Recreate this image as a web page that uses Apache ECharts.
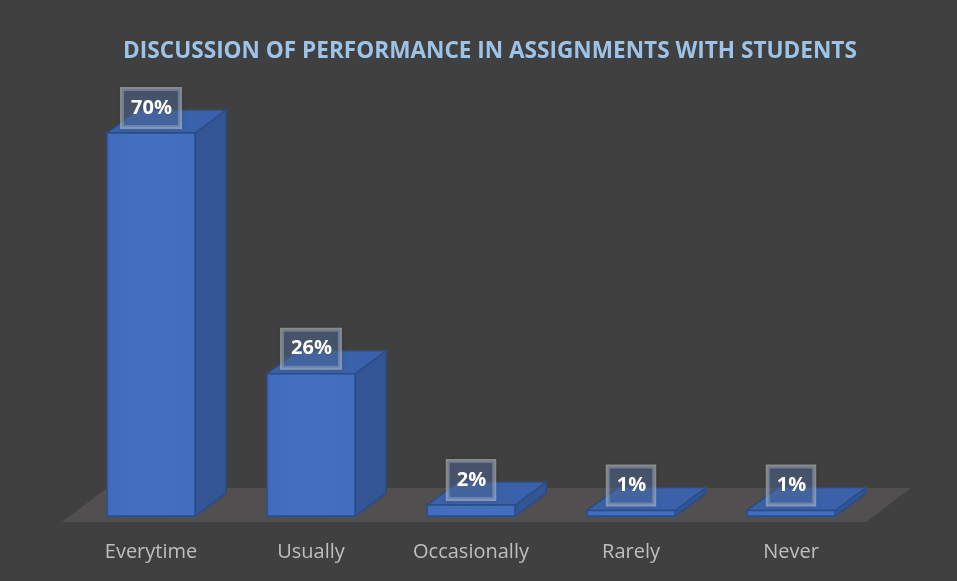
<!DOCTYPE html>
<html>
<head>
<meta charset="utf-8">
<script src="https://cdn.jsdelivr.net/npm/echarts@6/dist/echarts.min.js"></script>
<style>
    html, body { margin: 0; padding: 0; background: #404040; }
    #chart { width: 957px; height: 581px; }
</style>
</head>
<body>
<div id="chart"></div>
<script>
var categories = ["Everytime", "Usually", "Occasionally", "Rarely", "Never"];
var percents = [70, 26, 2, 1, 1];

(function() {
    let myChart = echarts.init(document.getElementById("chart"));

    // depth of the 3d look
    var dx = 31, dy = -23;

    function renderBar(params, api) {
        var base = api.coord([api.value(0), 0]);
        var top = api.coord([api.value(0), api.value(1)]);
        var w = api.size([1, 0])[0] * 0.55;
        var x0 = base[0] - w / 2, x1 = base[0] + w / 2;
        var yb = base[1], yt = top[1];
        var edge = { stroke: "#2b4c86", lineWidth: 1.5 };
        return {
            type: "group",
            children: [{
                type: "polygon",
                shape: { points: [[x1, yt], [x1 + dx, yt + dy], [x1 + dx, yb + dy], [x1, yb]] },
                style: Object.assign({ fill: "#335594" }, edge)
            }, {
                type: "polygon",
                shape: { points: [[x0, yt], [x1, yt], [x1 + dx, yt + dy], [x0 + dx, yt + dy]] },
                style: Object.assign({ fill: "#3a62aa" }, edge)
            }, {
                type: "rect",
                shape: { x: x0, y: yt, width: w, height: yb - yt },
                style: Object.assign({
                    fill: new echarts.graphic.LinearGradient(0, 0, 1, 0, [
                        { offset: 0, color: "#3e6bbd" },
                        { offset: 0.35, color: "#4470c2" },
                        { offset: 1, color: "#416ebf" }
                    ])
                }, edge)
            }, {
                type: "text",
                x: base[0],
                y: yt - 6,
                style: {
                    text: api.value(1) + "%",
                    fill: "#ffffff",
                    font: "bold 20px 'Open Sans'",
                    align: "center",
                    verticalAlign: "bottom",
                    backgroundColor: "rgba(85, 110, 160, 0.45)",
                    borderColor: "rgba(200, 205, 215, 0.55)",
                    borderWidth: 2,
                    padding: [9, 8, 9, 9],
                    shadowBlur: 6,
                    shadowColor: "rgba(0,0,0,0.15)"
                }
            }]
        };
    }

    function renderFloor(params, api) {
        var cs = params.coordSys;
        var yf = cs.y + cs.height + 6;
        var l = cs.x - 9, r = cs.x + cs.width - 5;
        return {
            type: "polygon",
            shape: { points: [[l, yf], [r, yf], [r + 45, yf - 34], [l + 45, yf - 34]] },
            style: { fill: "#514f4f" }
        };
    }

    let option = {
        backgroundColor: "#404040",
        title: {
            text: "DISCUSSION OF PERFORMANCE IN ASSIGNMENTS WITH STUDENTS",
            left: 485,
            textAlign: "center",
            top: 35,
            textStyle: {
                color: "#9dc3e6",
                fontFamily: "Open Sans",
                fontWeight: "bold",
                fontSize: 22.6
            }
        },
        grid: {
            left: 71,
            right: 86,
            top: 133,
            bottom: 65
        },
        xAxis: {
            type: "category",
            data: categories,
            axisLine: { show: false },
            axisTick: { show: false },
            axisLabel: {
                color: "#bfbfbf",
                fontFamily: "Open Sans",
                fontSize: 20,
                margin: 26
            }
        },
        yAxis: {
            type: "value",
            min: 0,
            max: 70,
            show: false
        },
        series: [{
            type: "custom",
            renderItem: renderFloor,
            data: [[0, 0]],
            z: 1,
            silent: true
        }, {
            type: "custom",
            renderItem: renderBar,
            data: percents.map(function(v, i) { return [i, v]; }),
            z: 2
        }]
    };
    myChart.setOption(option);
    window.addEventListener("resize", function() {
        myChart.resize();
    });
})();
</script>
</body>
</html>
